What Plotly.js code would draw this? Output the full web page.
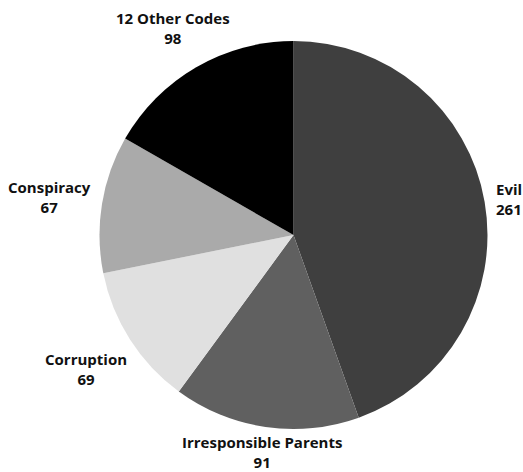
<!DOCTYPE html>
<html>
<head>
<meta charset="utf-8">
<script src="https://cdn.plot.ly/plotly-3.0.1.min.js"></script>
<style>
  html, body { margin: 0; padding: 0; background: #ffffff; }
  #chart { width: 523px; height: 472px; }
</style>
</head>
<body>
<div id="chart"></div>
<script>
// Data
var labels = ["Evil", "Irresponsible Parents", "Corruption", "Conspiracy", "12 Other Codes"];
var values = [261, 91, 69, 67, 98];
var colors = ["#3f3f3f", "#606060", "#e0e0e0", "#aaaaaa", "#000000"];

// Label placement (pixels in the 523x472 page): [x, y centre, xanchor]
var labelPlacement = [
  [494, 199, "left"],
  [261.5, 452, "center"],
  [86, 368.5, "center"],
  [49, 197, "center"],
  [172.5, 28, "center"]
];

var W = 523, H = 472;
var cx = 293.5, cy = 235, r = 194;

var annotations = labels.map(function (lab, i) {
  var p = labelPlacement[i];
  return {
    xref: "paper", yref: "paper",
    x: p[0] / W, y: 1 - p[1] / H,
    xanchor: p[2], yanchor: "middle",
    align: p[2] === "left" ? "left" : "center",
    showarrow: false,
    text: "<b>" + lab + "</b><br><b>" + values[i] + "</b>",
    font: { family: "Open Sans, sans-serif", size: 15, color: "#111111" }
  };
});

var trace = {
  type: "pie",
  labels: labels,
  values: values,
  sort: false,
  direction: "clockwise",
  rotation: 0,
  textposition: "none",
  hoverinfo: "label+value",
  marker: { colors: colors, line: { width: 0 } },
  domain: {
    x: [(cx - r) / W, (cx + r) / W],
    y: [(H - cy - r) / H, (H - cy + r) / H]
  },
  showlegend: false
};

var layout = {
  width: W, height: H,
  margin: { l: 0, r: 0, t: 0, b: 0 },
  paper_bgcolor: "#ffffff",
  plot_bgcolor: "#ffffff",
  showlegend: false,
  annotations: annotations
};

Plotly.newPlot("chart", [trace], layout, { displayModeBar: false, staticPlot: true });
</script>
</body>
</html>
